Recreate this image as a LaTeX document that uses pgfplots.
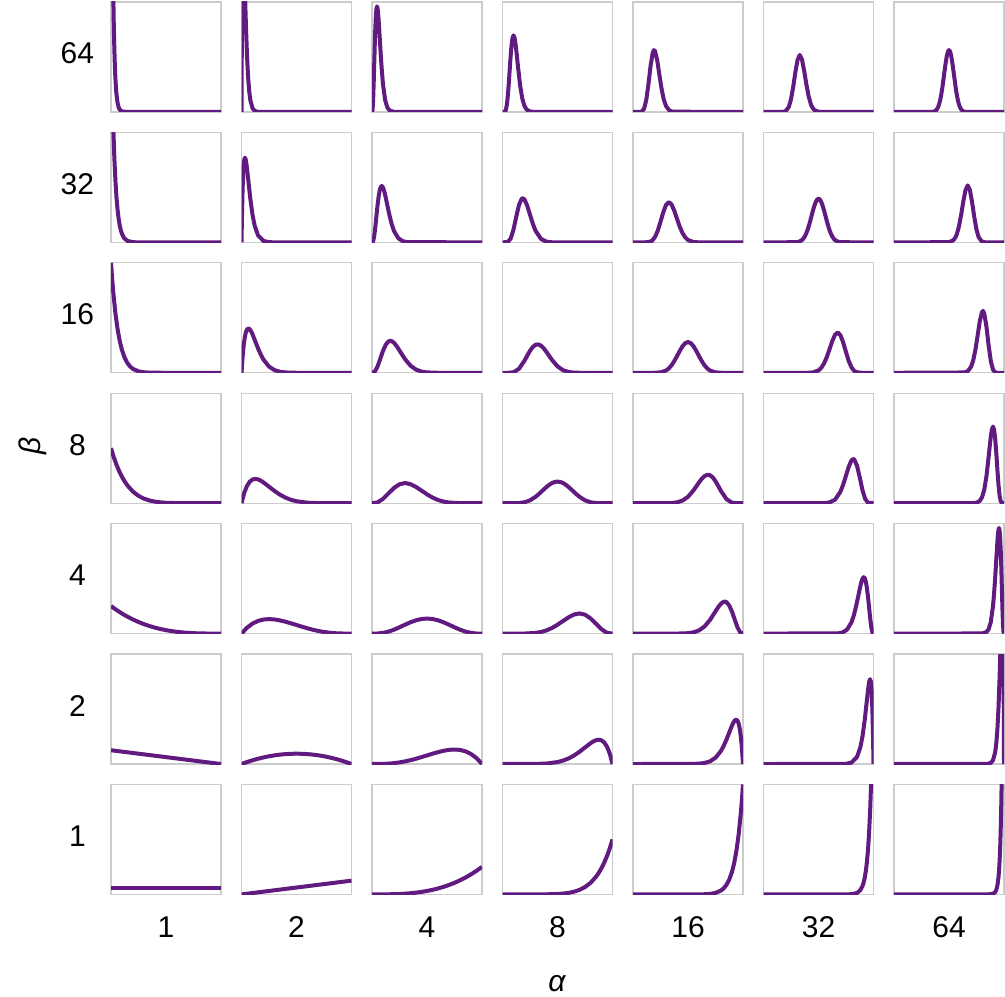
\documentclass[border=0pt]{standalone}
\usepackage{fontspec}
\setmainfont{Liberation Sans}
\usepackage{pgfplots}
\pgfplotsset{compat=1.18}
\definecolor{betapurple}{RGB}{96,26,128}

\pgfplotsset{
  panel/.style={width=55pt,height=55pt,scale only axis,
    xmin=0,xmax=1,ymin=0,ymax=16,ticks=none,
    axis line style={draw=black!20,line width=0.65pt},anchor=south west},
  curve/.style={draw=betapurple,line width=2pt,line join=round,no markers}
}
% #1 = column (alpha index), #2 = row (beta index, 0 = top)
\newcommand{\panel}[3]{%
  \begin{axis}[panel,at={({(55.5+65.25*#1)*1pt},{(442-65.2*#2)*1pt})}]
    \addplot[curve] coordinates {#3};
  \end{axis}}

\begin{document}
\begin{tikzpicture}[every node/.style={font=\fontsize{15}{17}\selectfont}]
\path[use as bounding box] (0,0) rectangle (502.5pt,498pt);

% ---- alpha = 1 ----
\panel{0}{0}{(0,64)(.005,46.67)(.01,33.98)(.015,24.70)(.02,17.92)(.025,12.99)(.03,9.39)(.035,6.784)(.04,4.89)(.045,3.519)(.05,2.53)(.06,1.30)(.07,.662)(.08,.335)(.1,.084)(.15,.002)(1,0)}
\panel{0}{1}{(0,32)(.01,23.43)(.02,17.11)(.03,12.45)(.04,9.03)(.05,6.52)(.06,4.70)(.07,3.373)(.08,2.41)(.09,1.719)(.1,1.22)(.12,.608)(.15,.208)(.2,.0317)(.25,.0042)(1,0)}
\panel{0}{2}{(0,16)(.01,13.76)(.02,11.82)(.04,8.674)(.06,6.325)(.08,4.581)(.1,3.294)(.125,2.159)(.15,1.398)(.175,.893)(.2,.563)(.25,.214)(.3,.076)(.35,.025)(.4,.0075)(1,0)}
\panel{0}{3}{(0,8)(.025,6.701)(.05,5.587)(.075,4.635)(.1,3.826)(.125,3.142)(.15,2.565)(.2,1.678)(.25,1.068)(.3,.659)(.35,.392)(.4,.224)(.45,.122)(.5,.0625)(.6,.0131)(.7,.0017)(1,0)}
\panel{0}{4}{(0,4)(.05,3.43)(.1,2.916)(.15,2.457)(.2,2.048)(.25,1.688)(.3,1.372)(.35,1.099)(.4,.864)(.45,.666)(.5,.5)(.55,.365)(.6,.256)(.65,.172)(.7,.108)(.75,.0625)(.8,.032)(.9,.004)(1,0)}
\panel{0}{5}{(0,2)(1,0)}
\panel{0}{6}{(0,1)(1,1)}

% ---- alpha = 2 ----
\panel{1}{0}{(0,0)(.0025,8.883)(.005,15.17)(.0075,19.42)(.01,22.09)(.0125,23.54)(.015625,24.10)(.02,23.30)(.025,21.10)(.03,18.32)(.035,15.43)(.04,12.71)(.05,8.214)(.06,5.062)(.07,3.011)(.08,1.741)(.1,.545)(.12,.159)(.15,.0223)(1,0)}
\panel{1}{1}{(0,0)(.005,4.520)(.01,7.733)(.015,9.914)(.02,11.29)(.025,12.04)(.03125,12.33)(.0375,12.11)(.045,11.40)(.055,10.05)(.065,8.546)(.08,6.372)(.1,4.029)(.12,2.409)(.15,1.028)(.2,.209)(.25,.0354)(.3,.004)(1,0)}
\panel{1}{2}{(0,0)(.01,2.339)(.02,4.018)(.03,5.168)(.04,5.898)(.05,6.301)(.0625,6.457)(.075,6.334)(.09,5.949)(.1,5.600)(.125,4.587)(.15,3.564)(.175,2.657)(.2,1.914)(.25,.909)(.3,.387)(.35,.149)(.4,.051)(.5,.004)(1,0)}
\panel{1}{3}{(0,0)(.025,1.508)(.05,2.514)(.075,3.129)(.1,3.444)(.125,3.534)(.15,3.462)(.175,3.279)(.2,3.020)(.25,2.403)(.3,1.779)(.35,1.235)(.4,.806)(.45,.493)(.5,.281)(.6,.0708)(.7,.011)(1,0)}
\panel{1}{4}{(0,0)(.05,.857)(.1,1.458)(.15,1.842)(.2,2.048)(.25,2.109)(.3,2.058)(.35,1.922)(.4,1.728)(.45,1.497)(.5,1.25)(.55,1.002)(.6,.768)(.65,.557)(.7,.378)(.75,.234)(.8,.128)(.85,.057)(.9,.018)(1,0)}
\panel{1}{5}{(0,0)(.05,.285)(.1,.54)(.15,.765)(.2,.96)(.25,1.125)(.3,1.26)(.35,1.365)(.4,1.44)(.45,1.485)(.5,1.5)(.55,1.485)(.6,1.44)(.65,1.365)(.7,1.26)(.75,1.125)(.8,.96)(.85,.765)(.9,.54)(.95,.285)(1,0)}
\panel{1}{6}{(0,0)(1,2)}

% ---- alpha = 4 ----
\panel{2}{0}{(0,0)(.005,.279)(.01,1.628)(.015,3.993)(.02,6.869)(.025,9.720)(.03,12.149)(.035,13.93)(.04,14.99)(.045,15.36)(.05,15.14)(.055,14.45)(.06,13.43)(.07,10.87)(.08,8.212)(.09,5.873)(.1,4.016)(.12,1.685)(.14,.629)(.16,.213)(.2,.019)(1,0)}
\panel{2}{1}{(0,0)(.01,.153)(.02,.896)(.03,2.200)(.04,3.781)(.05,5.338)(.06,6.645)(.07,7.574)(.08,8.087)(.09,8.206)(.1,7.991)(.11,7.522)(.12,6.880)(.14,5.357)(.16,3.856)(.18,2.601)(.2,1.659)(.24,.585)(.28,.174)(.32,.044)(1,0)}
\panel{2}{2}{(0,0)(.025,.166)(.05,.898)(.075,2.031)(.1,3.192)(.125,4.085)(.15,4.571)(.1667,4.659)(.175,4.638)(.2,4.364)(.225,3.860)(.25,3.237)(.3,1.988)(.35,1.038)(.4,.467)(.45,.180)(.5,.059)(.6,.0036)(1,0)}
\panel{2}{3}{(0,0)(.05,.115)(.1,.631)(.15,1.428)(.2,2.215)(.25,2.753)(.3,2.935)(.35,2.774)(.4,2.365)(.45,1.831)(.5,1.289)(.55,.821)(.6,.467)(.65,.233)(.7,.099)(.8,.0087)(1,0)}
\panel{2}{4}{(0,0)(.05,.015)(.1,.102)(.15,.290)(.2,.573)(.25,.923)(.3,1.297)(.35,1.648)(.4,1.935)(.45,2.123)(.5,2.188)(.55,2.123)(.6,1.935)(.65,1.648)(.7,1.297)(.75,.923)(.8,.573)(.85,.290)(.9,.102)(.95,.015)(1,0)}
\panel{2}{5}{(0,0)(.1,.018)(.15,.057)(.2,.128)(.25,.234)(.3,.378)(.35,.557)(.4,.768)(.45,1.002)(.5,1.25)(.55,1.497)(.6,1.728)(.65,1.922)(.7,2.058)(.75,2.109)(.8,2.048)(.85,1.842)(.9,1.458)(.95,.857)(1,0)}
\panel{2}{6}{(0,0)(.1,.004)(.2,.032)(.25,.0625)(.3,.108)(.35,.172)(.4,.256)(.45,.365)(.5,.5)(.55,.666)(.6,.864)(.65,1.099)(.7,1.372)(.75,1.688)(.8,2.048)(.85,2.457)(.9,2.916)(.95,3.43)(1,4)}

% ---- alpha = 8 ----
\panel{3}{0}{(0,0)(.02,.031)(.03,.273)(.04,1.065)(.05,2.627)(.06,4.833)(.07,7.247)(.08,9.339)(.09,10.70)(.1,11.15)(.11,10.75)(.12,9.699)(.13,8.268)(.14,6.704)(.16,3.877)(.18,1.937)(.2,.855)(.22,.338)(.25,.070)(.3,.003)(1,0)}
\panel{3}{1}{(0,0)(.05,.078)(.075,.586)(.1,1.878)(.125,3.739)(.15,5.454)(.175,6.360)(.1842,6.430)(.2,6.239)(.225,5.318)(.25,4.023)(.275,2.741)(.3,1.698)(.35,.502)(.4,.107)(.45,.016)(1,0)}
\panel{3}{2}{(0,0)(.05,.0014)(.1,.081)(.15,.585)(.2,1.767)(.225,2.502)(.25,3.199)(.275,3.749)(.3,4.073)(.325,4.133)(.35,3.942)(.375,3.548)(.4,3.022)(.45,1.868)(.5,.935)(.55,.375)(.6,.118)(.65,.028)(.7,.005)(1,0)}
\panel{3}{3}{(0,0)(.1,.0025)(.15,.028)(.2,.138)(.25,.419)(.3,.927)(.325,1.259)(.35,1.625)(.375,2.000)(.4,2.361)(.425,2.678)(.45,2.934)(.475,3.087)(.5,3.142)(.525,3.087)(.55,2.934)(.575,2.678)(.6,2.361)(.625,2.000)(.65,1.625)(.675,1.259)(.7,.927)(.75,.419)(.8,.138)(.85,.028)(.9,.0025)(1,0)}
\panel{3}{4}{(0,0)(.2,.0087)(.3,.099)(.35,.233)(.4,.467)(.45,.821)(.5,1.289)(.55,1.831)(.6,2.365)(.65,2.774)(.7,2.935)(.75,2.753)(.8,2.215)(.85,1.428)(.9,.631)(.95,.115)(1,0)}
\panel{3}{5}{(0,0)(.3,.011)(.4,.0708)(.5,.281)(.55,.493)(.6,.806)(.65,1.235)(.7,1.779)(.75,2.403)(.8,3.020)(.825,3.279)(.85,3.462)(.875,3.534)(.9,3.444)(.925,3.129)(.95,2.514)(.975,1.508)(1,0)}
\panel{3}{6}{(0,0)(.3,.0017)(.4,.0131)(.5,.0625)(.55,.122)(.6,.224)(.65,.392)(.7,.659)(.75,1.068)(.8,1.678)(.85,2.565)(.875,3.142)(.9,3.826)(.925,4.635)(.95,5.587)(.975,6.701)(1,8)}

% ---- alpha = 16 ----
\panel{4}{0}{(0,0)(.06,.003)(.08,.064)(.1,.452)(.12,1.691)(.14,4.011)(.16,6.751)(.18,8.657)(.19,8.992)(.2,8.873)(.22,7.521)(.24,5.400)(.26,3.343)(.28,1.808)(.3,.863)(.33,.228)(.36,.047)(1,0)}
\panel{4}{1}{(0,0)(.1,.001)(.15,.068)(.175,.273)(.2,.780)(.225,1.707)(.25,3.000)(.275,4.382)(.3,5.445)(.325,5.859)(.35,5.527)(.375,4.612)(.4,3.425)(.425,2.273)(.45,1.351)(.475,.719)(.5,.342)(.55,.054)(.6,.005)(1,0)}
\panel{4}{2}{(0,0)(.2,.0055)(.25,.060)(.3,.328)(.325,.631)(.35,1.088)(.375,1.701)(.4,2.428)(.425,3.183)(.45,3.859)(.475,4.313)(.5,4.478)(.525,4.313)(.55,3.859)(.575,3.183)(.6,2.428)(.625,1.701)(.65,1.088)(.675,.631)(.7,.328)(.75,.060)(.8,.0055)(1,0)}
\panel{4}{3}{(0,0)(.3,.005)(.35,.028)(.4,.118)(.45,.375)(.5,.935)(.55,1.868)(.6,3.022)(.625,3.548)(.65,3.942)(.675,4.133)(.7,4.073)(.725,3.749)(.75,3.199)(.775,2.502)(.8,1.767)(.85,.585)(.9,.081)(.95,.0014)(1,0)}
\panel{4}{4}{(0,0)(.4,.0036)(.5,.059)(.55,.180)(.6,.467)(.65,1.038)(.7,1.988)(.75,3.237)(.775,3.860)(.8,4.364)(.825,4.638)(.8333,4.659)(.85,4.571)(.875,4.085)(.9,3.192)(.925,2.031)(.95,.898)(.975,.166)(1,0)}
\panel{4}{5}{(0,0)(.5,.004)(.6,.051)(.65,.149)(.7,.387)(.75,.909)(.8,1.914)(.825,2.657)(.85,3.564)(.875,4.587)(.9,5.600)(.91,5.949)(.925,6.334)(.9375,6.457)(.95,6.301)(.96,5.898)(.97,5.168)(.98,4.018)(.99,2.339)(1,0)}
\panel{4}{6}{(0,0)(.6,.0075)(.65,.025)(.7,.076)(.75,.214)(.8,.563)(.825,.893)(.85,1.398)(.875,2.159)(.9,3.294)(.92,4.581)(.94,6.325)(.96,8.674)(.98,11.82)(.99,13.76)(1,16)}

% ---- alpha = 32 ----
\panel{5}{0}{(0,0)(.17,.007)(.2,.107)(.23,.732)(.25,1.849)(.27,3.660)(.29,5.828)(.31,7.613)(.33,8.289)(.35,7.612)(.37,5.951)(.39,3.987)(.41,2.301)(.43,1.147)(.44,.767)(.46,.308)(.5,.032)(1,0)}
\panel{5}{1}{(0,0)(.3,.029)(.325,.111)(.35,.342)(.3625,.554)(.375,.860)(.3875,1.271)(.4,1.794)(.4125,2.425)(.425,3.140)(.4375,3.904)(.45,4.672)(.4625,5.336)(.475,5.884)(.4875,6.236)(.5,6.358)(.5125,6.236)(.525,5.884)(.5375,5.336)(.55,4.672)(.5625,3.904)(.575,3.140)(.5875,2.425)(.6,1.794)(.6125,1.271)(.625,.860)(.6375,.554)(.65,.342)(.675,.111)(.7,.029)(1,0)}
\panel{5}{2}{(0,0)(.4,.005)(.45,.054)(.5,.342)(.525,.719)(.55,1.351)(.575,2.273)(.6,3.425)(.625,4.612)(.65,5.527)(.675,5.859)(.7,5.445)(.725,4.382)(.75,3.000)(.775,1.707)(.8,.780)(.825,.273)(.85,.068)(.9,.001)(1,0)}
\panel{5}{3}{(0,0)(.55,.016)(.6,.107)(.65,.502)(.7,1.698)(.725,2.741)(.75,4.023)(.775,5.318)(.8,6.239)(.8158,6.430)(.825,6.360)(.85,5.454)(.875,3.739)(.9,1.878)(.925,.586)(.95,.078)(1,0)}
\panel{5}{4}{(0,0)(.68,.044)(.72,.174)(.76,.585)(.8,1.659)(.82,2.601)(.84,3.856)(.86,5.357)(.88,6.880)(.89,7.522)(.9,7.991)(.91,8.206)(.92,8.087)(.93,7.574)(.94,6.645)(.95,5.338)(.96,3.781)(.97,2.200)(.98,.896)(.99,.153)(1,0)}
\panel{5}{5}{(0,0)(.7,.004)(.75,.0354)(.8,.209)(.85,1.028)(.88,2.409)(.9,4.029)(.92,6.372)(.935,8.546)(.945,10.05)(.955,11.40)(.9625,12.11)(.96875,12.33)(.975,12.04)(.98,11.29)(.985,9.914)(.99,7.733)(.995,4.520)(1,0)}
\panel{5}{6}{(0,0)(.75,.0042)(.8,.0317)(.85,.208)(.88,.608)(.9,1.22)(.91,1.719)(.92,2.41)(.93,3.373)(.94,4.70)(.95,6.52)(.96,9.03)(.97,12.45)(.98,17.11)(.99,23.43)(1,32)}

% ---- alpha = 64 ----
\panel{6}{0}{(0,0)(.34,.010)(.36,.053)(.37,.110)(.38,.215)(.39,.396)(.4,.688)(.41,1.131)(.42,1.759)(.43,2.589)(.44,3.613)(.45,4.819)(.46,6.013)(.47,7.179)(.48,8.146)(.49,8.787)(.5,9.011)(.51,8.787)(.52,8.146)(.53,7.179)(.54,6.013)(.55,4.819)(.56,3.613)(.57,2.589)(.58,1.759)(.59,1.131)(.6,.688)(.61,.396)(.62,.215)(.63,.110)(.64,.053)(.66,.010)(1,0)}
\panel{6}{1}{(0,0)(.5,.032)(.54,.308)(.56,.767)(.57,1.147)(.59,2.301)(.61,3.987)(.63,5.951)(.65,7.612)(.67,8.289)(.69,7.613)(.71,5.828)(.73,3.660)(.75,1.849)(.77,.732)(.8,.107)(.83,.007)(1,0)}
\panel{6}{2}{(0,0)(.64,.047)(.67,.228)(.7,.863)(.72,1.808)(.74,3.343)(.76,5.400)(.78,7.521)(.8,8.873)(.81,8.992)(.82,8.657)(.84,6.751)(.86,4.011)(.88,1.691)(.9,.452)(.92,.064)(.94,.003)(1,0)}
\panel{6}{3}{(0,0)(.7,.003)(.75,.070)(.78,.338)(.8,.855)(.82,1.937)(.84,3.877)(.86,6.704)(.87,8.268)(.88,9.699)(.89,10.75)(.9,11.15)(.91,10.70)(.92,9.339)(.93,7.247)(.94,4.833)(.95,2.627)(.96,1.065)(.97,.273)(.98,.031)(1,0)}
\panel{6}{4}{(0,0)(.8,.019)(.84,.213)(.86,.629)(.88,1.685)(.9,4.016)(.91,5.873)(.92,8.212)(.93,10.87)(.94,13.43)(.945,14.45)(.95,15.14)(.955,15.36)(.96,14.99)(.965,13.93)(.97,12.149)(.975,9.720)(.98,6.869)(.985,3.993)(.99,1.628)(.995,.279)(1,0)}
\panel{6}{5}{(0,0)(.85,.0223)(.88,.159)(.9,.545)(.92,1.741)(.93,3.011)(.94,5.062)(.95,8.214)(.96,12.71)(.965,15.43)(.97,18.32)(.975,21.10)(.98,23.30)(.984375,24.10)(.9875,23.54)(.99,22.09)(.9925,19.42)(.995,15.17)(.9975,8.883)(1,0)}
\panel{6}{6}{(0,0)(.85,.002)(.9,.084)(.92,.335)(.93,.662)(.94,1.30)(.95,2.53)(.955,3.519)(.96,4.89)(.965,6.784)(.97,9.39)(.975,12.99)(.98,17.92)(.985,24.70)(.99,33.98)(.995,46.67)(1,64)}

% ---- labels ----
\foreach \lab [count=\i from 0] in {1,2,4,8,16,32,64}
  \node at ({(83+65.25*\i)*1pt},34.25pt) {\lab};
\foreach \lab [count=\j from 0] in {64,32,16,8,4,2,1}
  \node at (38.7pt,{(471.2-65.2*\j)*1pt}) {\lab};
\node at (278.5pt,6pt) {\itshape α};
\node[rotate=90] at (16.5pt,275pt) {\itshape β};
\end{tikzpicture}
\end{document}
